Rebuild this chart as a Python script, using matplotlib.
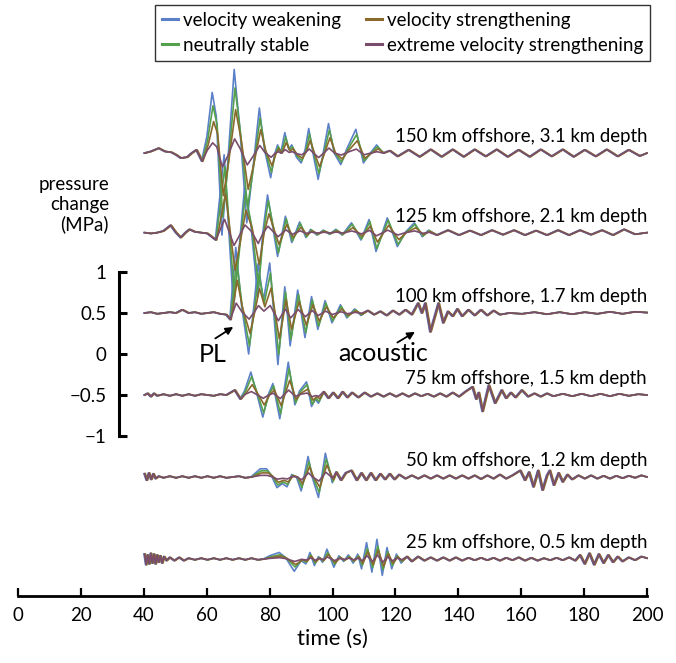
import numpy as np
import matplotlib.pyplot as plt

plt.rcParams['font.family'] = ['Lato', 'DejaVu Sans']

# rupture models (legend order) and colours
models = ['velocity weakening', 'neutrally stable',
          'velocity strengthening', 'extreme velocity strengthening']
colors = ['#5b80c8', '#55a04c', '#8a6a2c', '#7a4d6c']
lags = [0.0, 0.25, 0.45, 0.15]

stations = ['150 km offshore, 3.1 km depth', '125 km offshore, 2.1 km depth',
            '100 km offshore, 1.7 km depth', '75 km offshore, 1.5 km depth',
            '50 km offshore, 1.2 km depth', '25 km offshore, 0.5 km depth']

# pressure change (MPa) of the velocity weakening run, read at peaks/troughs
s150_t = [40, 42, 44.5, 46.5, 48.5, 50, 51.5, 53.5, 55, 56.5, 58.3,
          60, 61.7, 63, 64.8, 66.5, 68.7, 70.5, 72.7, 74.5, 76.7, 78.3, 80.3, 81.5, 82.5,
          83.5, 84.8, 86, 87, 88.5, 90, 91.3, 92.4, 94, 95.4, 97, 98.7, 100.5, 102.6,
          104.5, 107.4, 109.8, 112, 114, 116, 118,
          120.5, 124, 127.5, 131, 134.5, 138, 141.5, 145, 148.5, 152, 155.5, 159, 162.5,
          166, 169.5, 173, 176.5, 180, 183.5, 187, 190.5, 194, 197.5, 200]
s150_v = [0.0, 0.02, 0.06, 0.02, 0.01, -0.02, -0.06, -0.05, 0.0, 0.04, -0.1,
          0.2, 0.74, 0.45, -1.0, -0.2, 1.02, 0.3, -0.85, -0.25, 0.55, 0.05, -0.3, -0.02, 0.1,
          0.0, 0.25, 0.05, 0.1, -0.05, -0.12, 0.05, 0.3, -0.05, -0.32, 0.0, 0.36, 0.0, -0.14,
          0.05, 0.29, -0.12, 0.0, 0.1, 0.0, 0.03,
          -0.04, 0.04, -0.045, 0.045, -0.045, 0.045, -0.045, 0.045, -0.04, 0.045, -0.045, 0.04, -0.045,
          0.045, -0.04, 0.045, -0.045, 0.04, -0.04, 0.045, -0.04, 0.04, -0.035, 0.0]
s150_burst = [58.3, 118]
s150_gain = [1.0, 0.78, 0.52, 0.17]

s125_t = [40, 42, 44, 46, 48.3, 50, 51.5, 53, 54.3, 56, 58, 60, 62.7,
          65.5, 68.5, 70, 72, 74, 76.2, 77.8, 79.3, 82.5, 85, 87, 89.5, 91.5, 93, 95, 97,
          99, 101, 103, 106, 109, 111.6, 113.8, 117.4, 120.6, 123, 126, 128.5, 130.5,
          133, 136.5, 140, 143.5, 147, 150.5, 154, 157.5, 161, 164.5, 168, 171.5, 175,
          178.5, 182, 185.5, 189, 192.5, 196, 200]
s125_v = [0.0, -0.01, 0.0, 0.02, 0.09, 0.0, -0.06, 0.0, 0.04, 0.01, 0.0, -0.01, -0.09,
          0.95, -0.92, -0.3, 0.55, 0.1, -0.78, 0.0, 0.46, -0.29, 0.2, -0.12, 0.13, -0.06, 0.04, -0.03, 0.03,
          -0.02, 0.04, -0.03, 0.12, -0.09, 0.16, -0.23, 0.18, -0.17, 0.0, 0.12, -0.05, 0.03,
          -0.03, 0.03, -0.03, 0.025, -0.03, 0.03, -0.025, 0.03, -0.03, 0.025, -0.03, 0.03, -0.03,
          0.03, -0.025, 0.03, -0.03, 0.04, -0.02, 0.0]
s125_burst = [62.7, 131]
s125_gain = [1.0, 0.85, 0.5, 0.17]

s100_t = [40, 42, 44, 46, 48, 50, 52, 54, 56, 58, 60, 62, 64, 66, 67.3,
          69.2, 71, 73.3, 75, 76.3, 78, 80, 82.6, 84.8, 86.5, 88.9, 91.2, 93.3, 95.3,
          97.6, 99.8, 102.5, 104.5, 107, 109, 111,
          113, 115, 117, 119, 121, 123, 125, 127, 128.2, 129.3, 130.9, 133.5, 135, 136.5,
          138, 139.5, 141, 143, 145, 147, 149, 151, 153, 156,
          160, 164, 168, 172, 176, 180, 184, 188, 192, 196, 200]
s100_v = [0.0, 0.01, -0.01, 0.0, 0.01, 0.0, 0.04, 0.0, 0.01, -0.01, 0.0, 0.01, -0.01, -0.02, -0.08,
          0.8, 0.1, -0.5, 0.1, 0.6, 0.15, 0.61, -0.63, 0.32, -0.4, 0.28, -0.3, 0.2, -0.2,
          0.15, -0.12, 0.1, -0.06, 0.05, -0.03, 0.03,
          -0.02, 0.02, -0.03, 0.03, -0.02, 0.04, -0.02, 0.12, 0.0, 0.12, -0.23, 0.12, -0.12, 0.02,
          -0.04, 0.05, -0.04, 0.04, -0.03, 0.04, -0.03, 0.03, -0.02, 0.0,
          -0.01, 0.01, -0.015, 0.01, -0.015, 0.01, -0.01, 0.015, -0.01, 0.015, 0.005]
s100_burst = [67.3, 111]
s100_gain = [1.0, 0.8, 0.5, 0.15]

s75_t = [40, 41, 42, 43, 44, 46, 48, 50, 52, 54, 56, 58, 60, 62, 64, 66, 68.7, 70.5,
         72, 74, 76, 77.8, 79.5, 81, 83.2, 85.9, 88, 89.5, 91.7, 93.3, 94.5, 95.5, 97,
         98.5, 100, 101.5, 103, 104.5, 106, 108, 110, 112, 114, 116, 118, 120, 122, 124,
         126, 128, 130, 132, 134, 136, 138, 140, 142, 144.3, 145.5, 146.3, 147.5, 149.5,
         151.5, 153.6, 155, 156.5, 158, 160, 162, 164, 166, 168, 170, 173, 176, 179, 182,
         185, 188, 191, 194, 197, 200]
s75_v = [0.0, 0.02, -0.02, 0.02, -0.01, 0.01, -0.01, 0.01, -0.01, 0.01, -0.01, 0.01, 0.0, -0.01, 0.01, 0.0, 0.06, -0.05,
         0.05, 0.28, 0.0, -0.27, 0.0, 0.14, -0.29, 0.4, -0.12, 0.05, 0.16, -0.14, -0.05, -0.1, 0.04,
         -0.04, 0.03, -0.04, 0.04, -0.03, 0.03, -0.03, 0.03, -0.02, 0.02, -0.02, 0.02, -0.02, 0.02, -0.02,
         0.02, -0.015, 0.015, -0.02, 0.02, -0.02, 0.03, -0.02, 0.04, 0.1, -0.05, 0.03, -0.2, 0.12,
         -0.1, 0.06, -0.04, 0.03, -0.03, 0.06, -0.02, 0.02, -0.02, 0.02, -0.015, 0.015, -0.015, 0.015, -0.015,
         0.015, -0.015, 0.015, -0.01, 0.01, 0.0]
s75_burst = [70.5, 97]
s75_gain = [1.0, 0.8, 0.45, 0.15]

s50_t = [40, 40.7, 41.4, 42.1, 42.8, 43.5, 44.5, 46, 48, 50, 52, 54, 56, 58, 60, 62, 64,
         66, 68, 70, 72, 74,
         75.5, 77, 79, 80.5, 82.3, 84, 85.5, 87, 88.5, 90, 92.2, 93.5, 95.5, 97.7, 99.9, 101,
         102.5, 104, 105.8, 107.5, 109, 110.5, 112, 113.5, 115, 116.5, 118, 119.5, 121, 123,
         125, 127, 129, 131, 133, 135, 137, 139, 141, 143, 145, 147, 149, 151, 153, 155, 157,
         159.5, 161, 162.3, 163.7, 165.2, 166.6, 168, 168.9, 170.2, 171.7, 173, 174.5, 176,
         178, 180, 182, 184, 186, 188, 190, 192, 194, 196, 198, 200]
s50_v = [0.04, -0.04, 0.05, -0.03, 0.04, -0.02, 0.01, -0.01, 0.01, -0.01, 0.01, -0.01, 0.01, -0.01, 0.01, -0.01, 0.01,
         -0.01, 0.0, 0.01, -0.01, 0.0,
         0.05, 0.1, 0.1, 0.02, -0.13, -0.08, -0.12, 0.03, 0.0, -0.17, 0.25, 0.0, -0.25, 0.29, -0.07, 0.06,
         -0.04, 0.05, 0.08, -0.04, 0.05, -0.04, 0.05, -0.04, 0.04, -0.03, 0.04, -0.03, 0.03, -0.02,
         0.02, -0.02, 0.02, -0.02, 0.02, -0.02, 0.02, -0.02, 0.02, -0.02, 0.02, -0.025, 0.02, -0.02, 0.03, -0.02, 0.02,
         0.08, -0.04, 0.06, -0.12, 0.08, -0.16, 0.02, 0.08, -0.1, 0.05, -0.06, 0.03, -0.03,
         0.02, -0.02, 0.02, -0.02, 0.015, -0.02, 0.015, -0.015, 0.015, -0.01, 0.02, 0.0]
s50_burst = [74, 101]
s50_gain = [1.0, 0.75, 0.5, 0.2]

s25_t = [40, 40.5, 41, 41.5, 42, 42.5, 43, 43.5, 44, 44.5, 45, 45.6, 46.2, 47, 48, 49.5,
         51, 52.5, 54, 56, 58, 60, 62, 64, 66, 68, 70, 72, 74, 76, 78,
         80, 83, 85, 87.8, 90, 91.5, 92.8, 94.2, 95.5, 96.8, 98.2, 100.4, 102, 103.5, 105,
         106.5, 108, 109.2, 110.8, 112.5, 114.1, 115.8, 117.3, 118.8, 120.3, 121.8,
         123.5, 125, 127, 129, 131, 133, 135, 137, 139, 141, 143, 145, 147, 149, 151, 153,
         155, 157, 159, 161, 163, 165, 167, 169, 171, 173, 175, 177, 178.5, 180, 181.5, 183,
         184.5, 186, 187.5, 189, 190.5, 192, 194, 196, 198, 200]
s25_v = [0.06, -0.07, 0.05, -0.06, 0.07, -0.05, 0.06, -0.06, 0.05, -0.04, 0.04, -0.05, 0.03, -0.02, 0.02, -0.02,
         0.02, -0.02, 0.01, -0.01, 0.01, -0.01, 0.01, -0.01, 0.01, -0.01, 0.01, -0.01, 0.01, -0.01, 0.0,
         0.04, 0.08, 0.02, -0.15, -0.02, -0.06, 0.08, -0.08, 0.03, -0.04, 0.12, -0.1, 0.04, -0.03, 0.05,
         -0.05, 0.06, -0.12, 0.2, -0.16, 0.24, -0.2, 0.14, -0.12, 0.06, -0.05,
         0.03, -0.03, 0.03, -0.02, 0.02, -0.02, 0.02, -0.02, 0.02, -0.02, 0.015, -0.015, 0.015, -0.015, 0.015, -0.02,
         0.015, -0.015, 0.02, -0.02, 0.015, -0.02, 0.01, -0.015, 0.015, -0.015, 0.02, -0.02, 0.05, -0.06, 0.07, -0.07,
         0.06, -0.05, 0.05, -0.04, 0.03, -0.03, 0.02, -0.015, 0.03, 0.01]
s25_burst = [78, 122]
s25_gain = [1.0, 0.65, 0.45, 0.2]

traces_t = [s150_t, s125_t, s100_t, s75_t, s50_t, s25_t]
traces_v = [s150_v, s125_v, s100_v, s75_v, s50_v, s25_v]
bursts = [s150_burst, s125_burst, s100_burst, s75_burst, s50_burst, s25_burst]
gains = [s150_gain, s125_gain, s100_gain, s75_gain, s50_gain, s25_gain]

# vertical placement of each trace (MPa)
offsets = [2.45, 1.48, 0.5, -0.5, -1.5, -2.5]

xticks = [0, 20, 40, 60, 80, 100, 120, 140, 160, 180, 200]
yticks = [-1, -0.5, 0, 0.5, 1]
ytick_labels = ['\u22121', '\u22120.5', '0', '0.5', '1']

fig = plt.figure(figsize=(6.76, 6.63), dpi=100)
ax = fig.add_axes([0, 0, 1, 1])
ax.patch.set_alpha(0)
ax.set_xlim(-18.2 / 3.1445, 200 + 29 / 3.1445)
ax.set_ylim(-309 / 82, 354 / 82)

for i in range(len(stations)):
    t = np.array(traces_t[i])
    v = np.array(traces_v[i])
    a, b = bursts[i]
    inb = (t > a) & (t < b)
    for m in range(len(models)):
        vm = np.where(inb, v * gains[i][m], v)
        tm = np.clip(t + lags[m], 40, 200)
        ax.plot(tm, vm + offsets[i], color=colors[m], lw=1.2,
                label=models[m] if i == 0 else None, zorder=2 + m)
    ax.text(200, offsets[i] + 0.13, stations[i], ha='right', va='baseline',
            fontsize=13.4, zorder=10)

# axes: time axis at the bottom, pressure scale bar on the left
for s in ['top', 'right']:
    ax.spines[s].set_visible(False)
ax.spines['bottom'].set_position(('data', -242 / 82))
ax.spines['bottom'].set_bounds(0, 200)
ax.spines['bottom'].set_linewidth(2.0)
ax.spines['left'].set_position(('data', 32.1))
ax.spines['left'].set_bounds(-1, 1)
ax.spines['left'].set_linewidth(2.2)
ax.set_xticks(xticks)
ax.set_yticks(yticks)
ax.set_yticklabels(ytick_labels)
ax.tick_params(axis='x', direction='in', length=6, width=1.6, labelsize=13.5, pad=8)
ax.tick_params(axis='y', direction='in', length=6, width=2.2, labelsize=13.5, pad=9)
ax.text(100, -242 / 82 - 0.52, 'time (s)', ha='center', va='center', fontsize=16)

ax.text(28.9, 1.82, 'pressure\nchange\n(MPa)', ha='right', va='center',
        multialignment='right', fontsize=13.5, linespacing=1.2)

# phase annotations
arrow = dict(arrowstyle='-|>', color='black', lw=1.3, mutation_scale=11,
             shrinkA=0, shrinkB=0)
ax.annotate('', xy=(68.4, 0.33), xytext=(62.7, 0.19), arrowprops=arrow)
ax.text(61.8, 0.0, 'PL', ha='center', va='center', fontsize=18)
ax.annotate('', xy=(126.2, 0.27), xytext=(120.6, 0.14), arrowprops=arrow)
ax.text(116.0, 0.01, 'acoustic', ha='center', va='center', fontsize=18)

leg = ax.legend(loc='upper left', bbox_to_anchor=(155 / 676, 1 - 5 / 663),
                bbox_transform=fig.transFigure, ncol=2, fontsize=13.5,
                handlelength=0.9, handletextpad=0.25, columnspacing=1.3,
                borderpad=0.35, labelspacing=0.45, frameon=True, fancybox=False,
                borderaxespad=0)
leg.get_frame().set_edgecolor('black')
leg.get_frame().set_linewidth(1.0)
for h in leg.get_lines():
    h.set_linewidth(2.2)

fig.savefig('out.png', dpi=100)
